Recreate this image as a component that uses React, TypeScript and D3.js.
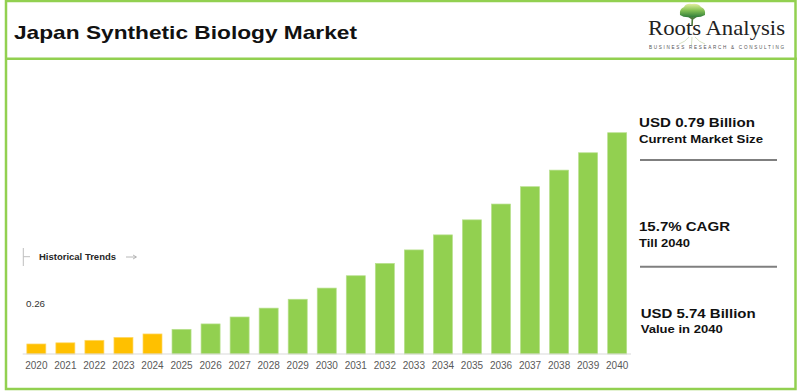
import React from "react";
import * as d3 from "d3";

const years = ["2020","2021","2022","2023","2024","2025","2026","2027","2028","2029","2030","2031","2032","2033","2034","2035","2036","2037","2038","2039","2040"];
const values = [0.26,0.29,0.355,0.43,0.52,0.64,0.78,0.96,1.19,1.42,1.71,2.03,2.35,2.70,3.09,3.48,3.89,4.34,4.77,5.22,5.74];
const historicalYears = ["2020","2021","2022","2023","2024"];
const firstValueLabel = "0.26";
const title = "Japan Synthetic Biology Market";
const statsTop = ["USD 0.79 Billion", "15.7% CAGR", "USD 5.74 Billion"];
const statsBottom = ["Current Market Size", "Till 2040", "Value in 2040"];

const GREEN = "#92D050";
const YELLOW = "#FFC000";

export default function App() {
  const x = d3.scaleBand<string>().domain(years).range([16.8, 636.7]).padding(0.345);
  const y = d3.scaleLinear().domain([0, 6]).range([354, 354 - 6 * 38.55]);
  const bw = x.bandwidth();

  const statTopY = [127.3, 230.5, 317.8];
  const statTopLen = [116, 91, 115];
  const statBotY = [143.3, 246.7, 333.3];
  const statBotLen = [124, 51, 82];
  const statX = [639, 639, 640.7];

  return (
    <svg width={800} height={391} style={{ position: "absolute", left: 0, top: 0, background: "#fff" }}
      fontFamily="'Liberation Sans', Arial, sans-serif">
      <defs>
        <linearGradient id="canopy" x1="0" y1="0" x2="0" y2="1">
          <stop offset="0%" stopColor="#e4efa0" />
          <stop offset="45%" stopColor="#8cc657" />
          <stop offset="100%" stopColor="#2f7d3a" />
        </linearGradient>
      </defs>
      <rect x={0} y={0} width={800} height={391} fill="#fff" />
      {/* frame */}
      <rect x={6} y={1} width={789.5} height={388} fill="none" stroke={GREEN} strokeWidth={2.5} />
      <line x1={6} x2={797} y1={58.7} y2={58.7} stroke={GREEN} strokeWidth={2.5} />

      {/* title */}
      <text x={14} y={39.3} fontSize={18.5} fontWeight="bold" fill="#111" textLength={343} lengthAdjust="spacingAndGlyphs">{title}</text>

      {/* logo */}
      <g>
        <path d="M692,26 L692.5,16 M692.5,19 L687,15 M692.5,19 L698,15" stroke="#4d7a3a" strokeWidth={1.6} fill="none" />
        <path d="M680,15 Q679,9 684,7 Q686,3 692,4 Q698,3 701,7 Q706,9 705,15 Q700,18 692,17 Q684,18 680,15 Z" fill="url(#canopy)" />
        <path d="M689,37 Q685,42 679,44 M695,37 Q699,42 705,44 M692,37 L691.5,45" stroke="#c9d8b0" strokeWidth={0.8} fill="none" />
        <text x={648} y={35} fontFamily="'Liberation Serif', 'Times New Roman', serif" fontSize={21} fill="#222" textLength={137} lengthAdjust="spacingAndGlyphs">Roots Analysis</text>
        <text x={649} y={49.2} fontSize={4.6} fill="#555" textLength={135} lengthAdjust="spacing">BUSINESS RESEARCH &amp; CONSULTING</text>
      </g>

      {/* bars */}
      {years.map((yr, i) => (
        <rect key={yr} x={x(yr)} y={y(values[i])} width={bw} height={y(0) - y(values[i])}
          fill={historicalYears.includes(yr) ? YELLOW : GREEN}
          stroke={historicalYears.includes(yr) ? "#ffd866" : "#b8e08e"} strokeWidth={0.7} />
      ))}
      <line x1={22.7} x2={631} y1={y(0)} y2={y(0)} stroke="#d9d9d9" strokeWidth={1} />

      {/* x labels */}
      {years.map((yr) => (
        <text key={"l" + yr} x={(x(yr) as number) + bw / 2} y={368.7} fontSize={10} fill="#595959" textAnchor="middle">{yr}</text>
      ))}

      {/* first value label */}
      <text x={26} y={306.7} fontSize={9.8} fill="#333">{firstValueLabel}</text>

      {/* historical trends */}
      <line x1={23.3} x2={23.3} y1={248} y2={266} stroke="#bfbfbf" strokeWidth={1} />
      <line x1={23.3} x2={30} y1={256.7} y2={256.7} stroke="#bfbfbf" strokeWidth={1} />
      <text x={39} y={260} fontSize={9.6} fontWeight="bold" fill="#262626" textLength={77} lengthAdjust="spacingAndGlyphs">Historical Trends</text>
      <line x1={126} x2={136} y1={257} y2={257} stroke="#a6a6a6" strokeWidth={0.8} />
      <path d="M133,255 L136.5,257 L133,259" stroke="#a6a6a6" strokeWidth={0.8} fill="none" />

      {/* right stats */}
      {statsTop.map((s, i) => (
        <g key={s}>
          <text x={statX[i]} y={statTopY[i]} fontSize={13} fontWeight="bold" fill="#111" textLength={statTopLen[i]} lengthAdjust="spacingAndGlyphs">{s}</text>
          <text x={statX[i]} y={statBotY[i]} fontSize={11.5} fontWeight="bold" fill="#111" textLength={statBotLen[i]} lengthAdjust="spacingAndGlyphs">{statsBottom[i]}</text>
        </g>
      ))}
      <line x1={640} x2={777} y1={160} y2={160} stroke="#7f7f7f" strokeWidth={2} />
      <line x1={640} x2={777} y1={266.7} y2={266.7} stroke="#7f7f7f" strokeWidth={2} />
    </svg>
  );
}
